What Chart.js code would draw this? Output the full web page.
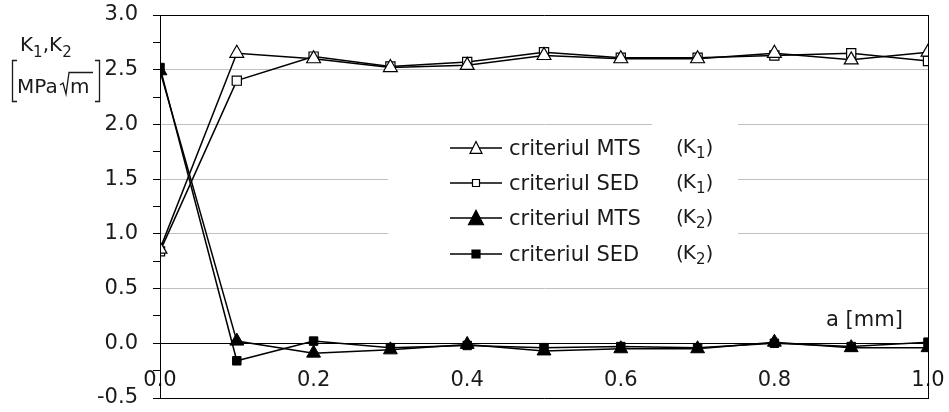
<!DOCTYPE html>
<html>
<head>
<meta charset="utf-8">
<script src="https://cdn.jsdelivr.net/npm/chart.js"></script>
<style>
html,body{margin:0;padding:0;background:#fff;}
#wrap{width:949px;height:412px;}
</style>
</head>
<body>
<div id="wrap"><canvas id="c" width="949" height="412"></canvas></div>
<script>
// ---- data ----
const aValues = [0.0, 0.1, 0.2, 0.3, 0.4, 0.5, 0.6, 0.7, 0.8, 0.9, 1.0];
const k1MTS = [0.86, 2.65, 2.60, 2.52, 2.54, 2.63, 2.60, 2.60, 2.65, 2.59, 2.66];
const k1SED = [0.84, 2.40, 2.62, 2.53, 2.57, 2.66, 2.61, 2.61, 2.63, 2.65, 2.58];
const k2MTS = [2.49, 0.02, -0.09, -0.06, -0.01, -0.07, -0.05, -0.05, 0.01, -0.04, -0.04];
const k2SED = [2.52, -0.16, 0.02, -0.04, -0.02, -0.04, -0.03, -0.04, 0.00, -0.03, 0.01];
const seriesLabels = ['criteriul MTS', 'criteriul SED', 'criteriul MTS', 'criteriul SED'];
const seriesSubscripts = ['1', '1', '2', '2'];
const xTickStep = 0.2;
const yTickStep = 0.25;
const xAxisTitle = 'a [mm]';
const yAxisTitleMain = ['K', '1', ',K', '2'];
const yAxisUnit = ['MPa', 'm'];

const FONT = '"DejaVu Sans", Verdana, sans-serif';
const TXT = '#1a1a1a';

function pts(ys) { return aValues.map((x, i) => ({x: x, y: ys[i]})); }

function isMult(v, step) { return Math.abs(v / step - Math.round(v / step)) < 1e-6; }

function drawMarker(ctx, style, cx, cy, size, filled) {
  ctx.save();
  ctx.beginPath();
  if (style === 'triangle') {
    const h = size * 0.9;
    ctx.moveTo(cx, cy - h / 2 - 1);
    ctx.lineTo(cx + size / 2, cy + h / 2);
    ctx.lineTo(cx - size / 2, cy + h / 2);
    ctx.closePath();
  } else {
    ctx.rect(cx - size / 2, cy - size / 2, size, size);
  }
  ctx.fillStyle = filled ? '#000' : '#fff';
  ctx.fill();
  ctx.lineWidth = 1.2;
  ctx.strokeStyle = '#000';
  ctx.stroke();
  ctx.restore();
}

const legendPlugin = {
  id: 'customLegend',
  beforeDatasetsDraw(chart) {
    const ctx = chart.ctx;
    ctx.save();
    ctx.fillStyle = '#fff';
    ctx.fillRect(388, 130, 265, 140);
    ctx.fillRect(652, 118, 86, 152);
    const rows = [155, 190, 225, 261];
    const markerSizes = [12, 7, 15, 8];
    chart.data.datasets.forEach((ds, i) => {
      const by = rows[i];
      const my = by - 7;
      ctx.strokeStyle = '#000';
      ctx.lineWidth = 1.5;
      ctx.beginPath();
      ctx.moveTo(450, my);
      ctx.lineTo(502, my);
      ctx.stroke();
      drawMarker(ctx, ds.pointStyle, 476, my, markerSizes[i], ds.pointBackgroundColor === '#000');
      ctx.fillStyle = TXT;
      ctx.font = '21px ' + FONT;
      ctx.textAlign = 'left';
      ctx.textBaseline = 'alphabetic';
      ctx.fillText(ds.label, 509, by);
      let x = 676;
      const ky = by - 2;
      ctx.font = '20px ' + FONT;
      ctx.fillText('(', x, ky + 1);
      x += ctx.measureText('(').width - 1;
      ctx.fillText('K', x, ky);
      x += ctx.measureText('K').width;
      ctx.font = '15px ' + FONT;
      ctx.fillText(seriesSubscripts[i], x, ky + 5);
      x += ctx.measureText(seriesSubscripts[i]).width;
      ctx.font = '20px ' + FONT;
      ctx.fillText(')', x, ky + 1);
    });
    ctx.restore();
  }
};

const titlesPlugin = {
  id: 'axisTitles',
  afterDraw(chart) {
    const ctx = chart.ctx;
    ctx.save();
    // right frame line of the plot box
    const xs = chart.scales.x;
    const ys = chart.scales.y;
    const xr = Math.round(xs.getPixelForValue(xs.max)) + 0.5;
    ctx.strokeStyle = '#000';
    ctx.lineWidth = 1;
    ctx.beginPath();
    ctx.moveTo(xr, Math.round(ys.getPixelForValue(ys.max)));
    ctx.lineTo(xr, Math.round(ys.getPixelForValue(ys.min)) + 1);
    ctx.stroke();

    ctx.fillStyle = TXT;
    ctx.textAlign = 'left';
    ctx.textBaseline = 'alphabetic';
    let x = 20;
    const by = 51;
    ctx.font = '20px ' + FONT;
    ctx.fillText(yAxisTitleMain[0], x, by); x += ctx.measureText(yAxisTitleMain[0]).width;
    ctx.font = '15px ' + FONT;
    ctx.fillText(yAxisTitleMain[1], x, by + 6); x += ctx.measureText(yAxisTitleMain[1]).width;
    ctx.font = '20px ' + FONT;
    ctx.fillText(yAxisTitleMain[2], x, by); x += ctx.measureText(yAxisTitleMain[2]).width;
    ctx.font = '15px ' + FONT;
    ctx.fillText(yAxisTitleMain[3], x, by + 6);
    ctx.strokeStyle = TXT;
    ctx.lineWidth = 1.3;
    ctx.beginPath();
    ctx.moveTo(17, 60.5); ctx.lineTo(12.5, 60.5); ctx.lineTo(12.5, 101.5); ctx.lineTo(17, 101.5);
    ctx.moveTo(95, 60.5); ctx.lineTo(99.5, 60.5); ctx.lineTo(99.5, 101.5); ctx.lineTo(95, 101.5);
    ctx.stroke();
    ctx.font = '20px ' + FONT;
    ctx.fillText(yAxisUnit[0], 17, 93);
    ctx.beginPath();
    ctx.moveTo(60, 85); ctx.lineTo(63, 83); ctx.lineTo(66, 94); ctx.lineTo(69, 72.5); ctx.lineTo(93, 72.5);
    ctx.stroke();
    ctx.fillText(yAxisUnit[1], 70, 93);
    ctx.font = '21px ' + FONT;
    ctx.fillText(xAxisTitle, 826, 326);
    ctx.restore();
  }
};

const frameAxis = (pos, extra) => Object.assign({
  type: 'linear', position: pos, display: true,
  ticks: {display: false}, grid: {display: false, drawTicks: false},
  border: {display: true, color: '#000', width: 1, z: 1}
}, extra);

new Chart(document.getElementById('c'), {
  type: 'line',
  data: {
    datasets: [
      {label: seriesLabels[0], data: pts(k1MTS), pointStyle: 'triangle', pointRadius: 8,
       pointBackgroundColor: '#fff', pointBorderColor: '#000', pointBorderWidth: 1.2,
       borderColor: '#000', borderWidth: 1.5, fill: false, tension: 0},
      {label: seriesLabels[1], data: pts(k1SED), pointStyle: 'rect', pointRadius: 6.5,
       pointBackgroundColor: '#fff', pointBorderColor: '#000', pointBorderWidth: 1.2,
       borderColor: '#000', borderWidth: 1.5, fill: false, tension: 0},
      {label: seriesLabels[2], data: pts(k2MTS), pointStyle: 'triangle', pointRadius: 8,
       pointBackgroundColor: '#000', pointBorderColor: '#000', pointBorderWidth: 1,
       borderColor: '#000', borderWidth: 1.5, fill: false, tension: 0},
      {label: seriesLabels[3], data: pts(k2SED), pointStyle: 'rect', pointRadius: 6,
       pointBackgroundColor: '#000', pointBorderColor: '#000', pointBorderWidth: 1,
       borderColor: '#000', borderWidth: 1.5, fill: false, tension: 0}
    ]
  },
  options: {
    responsive: false,
    devicePixelRatio: 1,
    animation: false,
    layout: {padding: {left: 0, right: 21, top: 0, bottom: 0}},
    plugins: {legend: {display: false}, tooltip: {enabled: false}},
    scales: {
      x: {
        type: 'linear', min: 0, max: 1,
        position: {y: 0},
        afterFit(s) { s.height = 0; s.paddingLeft = 0; s.paddingRight = 0; },
        ticks: {
          stepSize: xTickStep, autoSkip: false, maxRotation: 0, padding: 25,
          font: {family: FONT, size: 21}, color: TXT,
          callback: v => Number(v).toFixed(1)
        },
        grid: {drawTicks: false, lineWidth: 1, color: 'rgba(0,0,0,0)'},
        border: {display: true, color: '#000', width: 1}
      },
      xTop: frameAxis('top', {min: 0, max: 1, afterFit(s) { s.height = 0; s.paddingLeft = 0; s.paddingRight = 0; }}),
      xBottom: frameAxis('bottom', {min: 0, max: 1, afterFit(s) { s.height = 0; s.paddingLeft = 0; s.paddingRight = 0; }}),
      y: {
        type: 'linear', min: -0.5, max: 3.0,
        position: 'left',
        afterFit(s) { s.width = 160; s.paddingTop = 15; s.paddingBottom = 14; },
        ticks: {
          stepSize: yTickStep, autoSkip: false, padding: 15,
          font: {family: FONT, size: 21}, color: TXT,
          callback: v => isMult(v, 0.5) ? Number(v).toFixed(1) : ''
        },
        grid: {
          tickLength: 7, lineWidth: 1, tickColor: '#000',
          color: c => {
            const v = c.tick ? c.tick.value : 0;
            if (Math.abs(v) < 1e-6) return 'rgba(0,0,0,0)';
            if (isMult(v, 0.5)) return '#c0c0c0';
            return 'rgba(0,0,0,0)';
          }
        },
        border: {display: true, color: '#000', width: 1, z: 1}
      }
    }
  },
  plugins: [legendPlugin, titlesPlugin]
});
</script>
</body>
</html>
